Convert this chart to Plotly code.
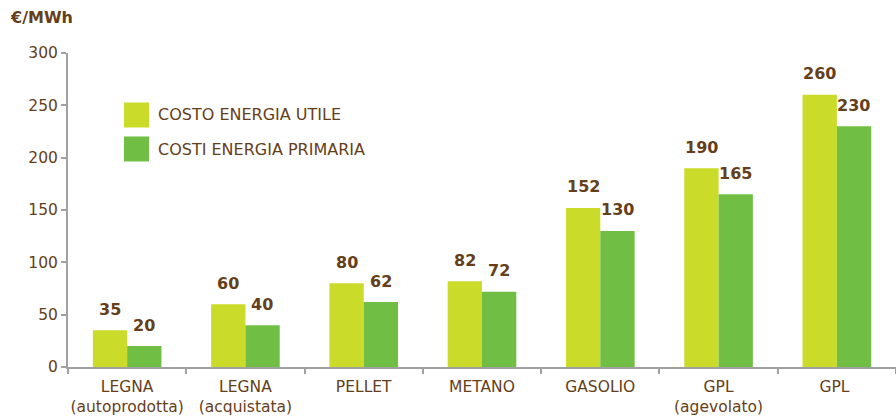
import plotly.graph_objects as go

categories = ["LEGNA<br>(autoprodotta)", "LEGNA<br>(acquistata)", "PELLET", "METANO",
              "GASOLIO", "GPL<br>(agevolato)", "GPL "]
costo_utile = [35, 60, 80, 82, 152, 190, 260]
costo_primaria = [20, 40, 62, 72, 130, 165, 230]
series_names = ["COSTO ENERGIA UTILE", "COSTI ENERGIA PRIMARIA"]
y_ticks = [0, 50, 100, 150, 200, 250, 300]

C1 = "#CBDB2A"
C2 = "#70BF44"
BROWN = "#653E1A"
AX = "#A0A0A0"
FONT = "DejaVu Sans"

W, H = 896, 416
L, R, T, B = 68, 0, 53, 49
pw, ph = W - L - R, H - T - B
def px(x): return (x - L) / pw
def py(y): return (H - B - y) / ph

fig = go.Figure()
fig.add_trace(go.Bar(x=categories, y=costo_utile, name=series_names[0],
                     marker=dict(color=C1, line=dict(width=0)), showlegend=False))
fig.add_trace(go.Bar(x=categories, y=costo_primaria, name=series_names[1],
                     marker=dict(color=C2, line=dict(width=0)), showlegend=False))

annotations = []
for i, (a, b) in enumerate(zip(costo_utile, costo_primaria)):
    annotations.append(dict(x=i, y=a, xref="x", yref="y", text=f"<b>{a}</b>",
                            showarrow=False, xshift=-17, yshift=21,
                            font=dict(family=FONT, size=16, color=BROWN)))
    annotations.append(dict(x=i, y=b, xref="x", yref="y", text=f"<b>{b}</b>",
                            showarrow=False, xshift=17, yshift=21,
                            font=dict(family=FONT, size=16, color=BROWN)))

annotations.append(dict(x=px(8), y=py(18), xref="paper", yref="paper", text="<b>€/MWh</b>",
                        showarrow=False, xanchor="left", yanchor="middle",
                        font=dict(family=FONT, size=16, color=BROWN)))

shapes = []
leg_y = [115, 149]
for name, col, yy in zip(series_names, [C1, C2], leg_y):
    shapes.append(dict(type="rect", xref="paper", yref="paper",
                       x0=px(124), x1=px(149), y0=py(yy - 12.5), y1=py(yy + 12.5),
                       fillcolor=col, line=dict(width=0)))
    annotations.append(dict(x=px(156), y=py(yy), xref="paper", yref="paper", text=name,
                            showarrow=False, xanchor="left", yanchor="middle",
                            font=dict(family=FONT, size=16, color=BROWN)))

fig.update_layout(
    width=W, height=H,
    margin=dict(l=L, r=R, t=T, b=B, pad=0),
    plot_bgcolor="white", paper_bgcolor="white",
    barmode="group", bargap=0.42, bargroupgap=0,
    font=dict(family=FONT, size=16, color=BROWN),
    xaxis=dict(showline=True, linecolor=AX, linewidth=2, automargin=False, tickangle=0,
               ticks="outside", tickson="boundaries", ticklen=5, tickcolor=AX,
               tickwidth=1.5, ticklabelstandoff=4,
               tickfont=dict(family=FONT, size=15.5, color=BROWN)),
    yaxis=dict(range=[0, 300], tickvals=y_ticks, showline=True, linecolor=AX,
               linewidth=2, ticks="outside", ticklen=5, tickcolor=AX, tickwidth=1.5,
               showgrid=False, zeroline=False, automargin=False,
               tickfont=dict(family=FONT, size=15.5, color=BROWN)),
    shapes=shapes, annotations=annotations,
)
fig.write_html("out.html", config={"displayModeBar": False},
               post_script="document.body.style.margin='0';document.body.style.overflow='hidden';")
